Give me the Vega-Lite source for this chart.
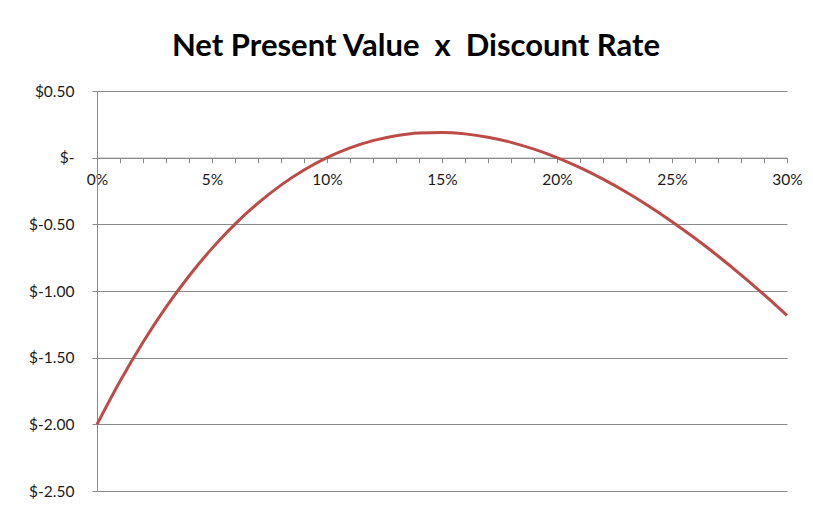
{
  "$schema": "https://vega.github.io/schema/vega-lite/v6.json",
  "autosize": "none",
  "width": 690,
  "height": 400,
  "padding": {"left": 97, "top": 91, "right": 26, "bottom": 15},
  "background": "white",
  "title": {
    "text": "Net Present Value \u00a0x\u00a0 Discount Rate",
    "font": "Lato",
    "fontSize": 31,
    "fontWeight": "bold",
    "color": "#000000",
    "anchor": "middle",
    "dx": -26,
    "offset": 21
  },
  "config": {
    "view": {"stroke": null},
    "axis": {
      "labelFont": "Lato",
      "labelFontSize": 15.5,
      "labelColor": "#1a1a1a",
      "domainColor": "#8a8a8a",
      "tickColor": "#8a8a8a",
      "gridColor": "#8a8a8a",
      "gridWidth": 1,
      "tickSize": 5,
      "title": null
    }
  },
  "data": {
    "values": [
      {"rate": 0, "npv": -2.0},
      {"rate": 1, "npv": -1.6763},
      {"rate": 2, "npv": -1.3841},
      {"rate": 3, "npv": -1.1217},
      {"rate": 4, "npv": -0.8876},
      {"rate": 5, "npv": -0.6803},
      {"rate": 6, "npv": -0.4984},
      {"rate": 7, "npv": -0.3406},
      {"rate": 8, "npv": -0.2057},
      {"rate": 9, "npv": -0.0926},
      {"rate": 10, "npv": 0.0},
      {"rate": 11, "npv": 0.073},
      {"rate": 12, "npv": 0.1275},
      {"rate": 13, "npv": 0.1644},
      {"rate": 14, "npv": 0.1847},
      {"rate": 15, "npv": 0.189},
      {"rate": 16, "npv": 0.1784},
      {"rate": 17, "npv": 0.1534},
      {"rate": 18, "npv": 0.115},
      {"rate": 19, "npv": 0.0635},
      {"rate": 20, "npv": 0.0},
      {"rate": 21, "npv": -0.0752},
      {"rate": 22, "npv": -0.1612},
      {"rate": 23, "npv": -0.2578},
      {"rate": 24, "npv": -0.3642},
      {"rate": 25, "npv": -0.48},
      {"rate": 26, "npv": -0.6047},
      {"rate": 27, "npv": -0.7377},
      {"rate": 28, "npv": -0.8789},
      {"rate": 29, "npv": -1.0276},
      {"rate": 30, "npv": -1.1834}
    ]
  },
  "mark": {"type": "line", "color": "#BE4B48", "strokeWidth": 3, "interpolate": "monotone"},
  "encoding": {
    "x": {
      "field": "rate",
      "type": "quantitative",
      "scale": {"domain": [0, 30], "nice": false, "zero": false},
      "axis": {
        "orient": "bottom",
        "offset": -333.33,
        "values": [0,1,2,3,4,5,6,7,8,9,10,11,12,13,14,15,16,17,18,19,20,21,22,23,24,25,26,27,28,29,30],
        "labelExpr": "datum.value % 5 == 0 ? datum.value + '%' : ''",
        "labelOverlap": false,
        "labelFlush": false,
        "labelBound": false,
        "labelPadding": 10,
        "grid": false
      }
    },
    "y": {
      "field": "npv",
      "type": "quantitative",
      "scale": {"domain": [-2.5, 0.5], "nice": false, "zero": false},
      "axis": {
        "values": [-2.5, -2, -1.5, -1, -0.5, 0, 0.5],
        "labelExpr": "datum.value == 0 ? '$-' : '$' + (datum.value < 0 ? '-' : '') + format(abs(datum.value), '.2f')",
        "labelPadding": 18,
        "grid": true
      }
    }
  }
}
